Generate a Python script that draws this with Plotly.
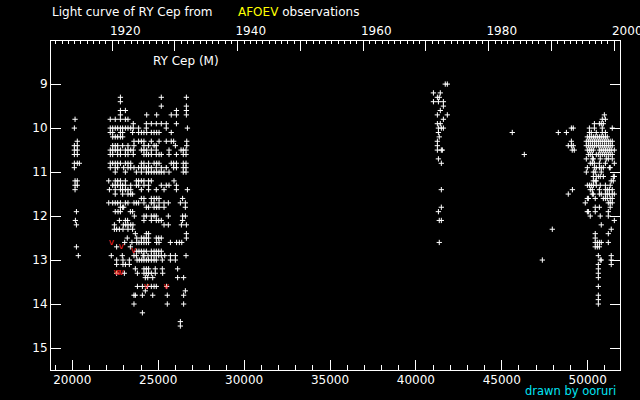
import plotly.graph_objects as go

# ---------------- data (JD - 2400000, visual magnitude) ----------------
# 1913 season
jd_a = [20160, 20120, 20290, 20120, 20290, 20120, 20290, 20120, 20290, 20120, 20290, 20410,
        20120, 20160, 20290, 20160, 20290, 20160, 20240, 20180, 20240, 20240, 20350]
mag_a = [9.8, 10.0, 10.3, 10.4, 10.4, 10.5, 10.5, 10.6, 10.6, 10.8, 10.8, 10.8,
         10.9, 11.2, 11.2, 11.3, 11.3, 11.4, 11.9, 12.1, 12.2, 12.7, 12.9]

# 1919-1931 seasons, one JD list per magnitude row
mag_rows_b = [9.3, 9.4, 9.5, 9.6, 9.7, 9.8, 9.9, 10.0, 10.1, 10.2, 10.3, 10.4, 10.5, 10.6,
              10.8, 10.9, 11.0, 11.2, 11.3, 11.4, 11.5, 11.6, 11.7, 11.8, 11.9, 12.0, 12.1,
              12.2, 12.3, 12.4, 12.5, 12.6, 12.7, 12.8, 12.9, 13.0, 13.1, 13.2, 13.3, 13.4,
              13.6, 13.7, 13.8, 14.0, 14.2, 14.4, 14.5]
jd_rows_b = [
    [22800, 25180, 26640],
    [22800],
    [25180, 26640],
    [22800, 23090, 26060, 26640],
    [22800, 24330, 24910, 25760, 26060, 26640],
    [22210, 22500, 22800, 23090, 23240],
    [23550, 24310, 24600, 24890, 25180, 25470, 26060],
    [22210, 22350, 22500, 22640, 22800, 22930, 23090, 23240, 23400, 23550, 23860, 24310, 25470, 26700],
    [22210, 22350, 22800, 22930, 23510, 23860, 24020, 24170, 24330, 24600, 24760, 24910, 25050, 25760],
    [22350, 22500, 22640, 22800, 22930],
    [23590, 23860, 24020, 24170, 24600, 25050, 25470, 25760, 25900, 26660],
    [22350, 22500, 22640, 22930, 23240, 23590, 24170, 24440, 24760, 24890, 26000, 26660],
    [22210, 22350, 22500, 22640, 22800, 23090, 23240, 23400, 23550, 24020, 24170, 24330, 24600, 24890, 25630, 26330, 26460, 26620],
    [22210, 22350, 22640, 22800, 23090, 23240, 23550, 24170, 24310, 24440, 24600, 24890, 25050, 25180, 25630, 26060, 26460, 26620],
    [22210, 22350, 22500, 22640, 22800, 23090, 23240, 23400, 24020, 24170, 24440, 24760, 24910, 25050, 25760, 25900, 26060, 26460, 26620],
    [22210, 22500, 22640, 22990, 23240, 23400, 23590, 23860, 24020, 24170, 24310, 24440, 24600, 24890, 25180, 25470, 25900, 26060, 26460, 26620],
    [22500, 23090, 23730, 24020, 24310, 24440, 24600, 24760, 24910, 25050, 25180, 25340, 25630, 26460, 26620],
    [22120, 22500, 22640, 22800, 23090, 23730, 23860, 24020, 24170, 24440, 24600, 25920],
    [22350, 22500, 22640, 22800, 22930, 23090, 23400, 23730, 23860, 24170, 24440, 25180, 25470, 25630, 26060],
    [22160, 22500, 22800, 22930, 23090, 23240, 23400, 24020, 24440, 24890, 25340, 26060, 26700],
    [22500, 22930, 23240, 23400, 23510],
    [24020, 24170, 24600, 24760, 24910, 25050, 26420],
    [22120, 22350, 22500, 22640, 22800, 23090, 23240, 23590, 23730, 23860, 24170, 24600, 24760, 25050, 25340, 25590, 26290, 26580],
    [22800, 22930, 22990, 24310, 24440, 24760, 24910, 25050, 25340, 26580],
    [22500, 22660, 22800, 23380, 23510],
    [23610, 24170, 24310, 24600, 24760, 24890, 25590, 26420, 26580],
    [22740, 23090, 23220, 24170, 24600, 24890, 25030, 25180, 26420],
    [22450, 22970, 23110, 23240, 23400, 23530, 25340, 25590, 26350, 26640],
    [22450, 22580, 22740, 22950, 23240, 23510],
    [23670, 24310, 24440, 26640],
    [23200, 23750, 24020, 24170, 24310, 24440, 24890, 25030, 25180, 26640],
    [23050, 23470, 23750, 23880, 24020, 24170, 24310, 24440, 24910, 25050, 25710, 26070, 26230, 26370],
    [22580, 23380],
    [23750, 23880, 24020, 24170, 24310, 24600, 24760, 24890, 25030, 25180],
    [22270, 22910, 23590, 23730, 24120, 24170, 24410, 24600, 24760, 24890, 25030, 25180, 25380, 25710, 26000, 26620],
    [22580, 22950, 23320, 23770, 23900, 24040, 24170, 24310, 24440, 24600, 24760, 24890, 25240, 25710, 26000],
    [22580, 22950, 23090, 23320],
    [23670, 24170, 24310, 24440, 24830, 25240, 26130],
    [22580, 23030, 23790, 24170, 24310, 24440, 24600, 24830, 25260],
    [24250, 24390, 24680, 26130, 26480],
    [23790, 24080, 24370, 24600, 24760, 24890, 25490],
    [24250, 26580],
    [23590, 23670, 24080, 24680, 25530, 26480],
    [23590, 25530, 26480],
    [24080],
    [26290],
    [26290],
]

# 1971-1973 seasons
mag_rows_c = [9.0, 9.2, 9.3, 9.4, 9.5, 9.6, 9.7, 9.8, 9.9, 10.0, 10.1, 10.2, 10.3, 10.4,
              10.5, 10.7, 10.8, 11.4, 11.8, 11.9, 12.1, 12.6]
jd_rows_c = [
    [41710, 41830], [41020, 41420], [41250, 41360], [41020, 41310, 41600], [41600],
    [41420], [41250, 41830], [41600], [41250, 41420], [41310, 41480, 41600], [41310],
    [41360], [41250], [41250], [41250, 41480, 41540], [41310], [41480], [41480],
    [41480], [41310], [41360, 41480], [41360],
]

# scattered 1983-1993 observations
jd_d = [45610, 46310, 47360, 47940, 48290, 48760, 49050, 49160, 49050, 48870, 49050, 49160,
        49100, 49220, 49110, 48870]
mag_d = [10.1, 10.6, 13.0, 12.3, 10.1, 10.1, 10.0, 10.0, 10.3, 10.4, 10.4, 10.4,
         10.5, 10.5, 11.4, 11.5]

# 1995-2000 seasons
mag_rows_e = [9.7, 9.8, 9.9, 10.0, 10.1, 10.2, 10.3, 10.4, 10.5, 10.6, 10.7, 10.8, 10.9,
              11.0, 11.1, 11.2, 11.3, 11.4, 11.5, 11.6, 11.7, 11.8, 11.9, 12.0, 12.1, 12.2,
              12.3, 12.4, 12.5, 12.6, 12.7, 12.9, 13.0, 13.1, 13.2, 13.3, 13.4, 13.6, 13.8,
              13.9, 14.0]
jd_rows_e = [
    [50970],
    [50850, 51030],
    [50390, 50680, 50790, 50910],
    [50100, 50390, 50850, 51430],
    [50100, 50210, 50500, 50850, 51030],
    [49980, 50100, 50210, 50330, 50440, 50560, 50680, 50790, 50910, 51030, 51140],
    [49920, 50040, 50150, 50270, 50390, 50500, 50620, 50730, 50850, 50970, 51080, 51200, 51310, 51430],
    [49920, 50040, 50150, 50270, 50390, 50500, 50620, 50730, 50850, 50970, 51080, 51200, 51310, 51430],
    [49980, 50100, 50210, 50330, 50680, 50790, 50910, 51030, 51140, 51260, 51370, 51550],
    [50040, 50150, 50270, 50500, 50620, 50730, 50850, 50970, 51080, 51200, 51310, 51430],
    [49920, 50270, 50330, 50730, 51080, 51200, 51430],
    [50150, 50270, 50390, 50680, 51030, 51550],
    [49980, 50390, 50500, 50680, 50790, 50910, 51260, 51310],
    [49920, 50330, 50440, 50790],
    [50330, 50500, 50620, 50730, 50910, 51490, 51550],
    [50330, 50440, 50500, 51370, 51490],
    [49980, 50100, 50210, 50330, 50500, 50730, 51030, 51310],
    [50150, 50270, 50680, 51030, 51140, 51260, 51430],
    [50270, 50330, 50680, 50790, 51030, 51140, 51260, 51430, 51550],
    [49980, 50040, 50440, 50910, 51030, 51140, 51310, 51430],
    [49860, 51200, 51310, 51430],
    [50440, 50680, 51310],
    [49980, 50040, 50440, 51200],
    [50150, 50730, 51200],
    [51550],
    [50790],
    [51370],
    [50440, 51200],
    [50440],
    [50440, 50560, 50680, 50790, 51200],
    [50440, 50560, 50680],
    [50620, 51370],
    [50730, 50790, 51370],
    [50620, 51370],
    [50620], [50620], [50620], [50620], [50620], [50620], [50620],
]

# fainter-than limits (red)
jd_lim = [22270, 22850, 23550, 22560, 22700, 22850, 24310, 25470]
mag_lim = [12.6, 12.7, 12.8, 13.3, 13.3, 13.3, 13.6, 13.6]

jd_ticks = [20000, 25000, 30000, 35000, 40000, 45000, 50000]
jd_tick_text = ["20000", "25000", "30000", "35000", "40000", "45000", "50000"]
year_ticks = [1920, 1930, 1940, 1950, 1960, 1970, 1980, 1990, 2000]
year_tick_text = ["1920", "", "1940", "", "1960", "", "1980", "", "2000"]
mag_ticks = [9, 10, 11, 12, 13, 14, 15]


def flatten(mags, rows):
    xs, ys = [], []
    for m, r in zip(mags, rows):
        for j in r:
            xs.append(j)
            ys.append(m)
    return xs, ys


xb, yb = flatten(mag_rows_b, jd_rows_b)
xc, yc = flatten(mag_rows_c, jd_rows_c)
xe, ye = flatten(mag_rows_e, jd_rows_e)
all_x = jd_a + xb + xc + jd_d + xe
all_y = mag_a + yb + yc + mag_d + ye

# ---------------- figure ----------------
W, H = 640, 400
ML, MR, MT, MB = 51, 20, 41, 30
PW, PH = W - ML - MR, H - MT - MB
jd_range = [18760, 51880]


def jd_to_year(jd):
    return 2000 + (jd - 51544.5) / 365.25


def px(x):
    return (x - ML) / PW


def py(y):
    return (H - MB - y) / PH


fig = go.Figure()
fig.add_trace(go.Scatter(
    x=all_x, y=all_y, mode="markers",
    marker=dict(symbol="cross-thin-open", size=3.8, color="white",
                line=dict(color="white", width=1)),
    hoverinfo="skip", showlegend=False))
fig.add_trace(go.Scatter(
    x=jd_lim, y=mag_lim, mode="text", text=["v"] * len(jd_lim),
    textfont=dict(color="#ff2020", size=9, family="DejaVu Sans"),
    hoverinfo="skip", showlegend=False))
fig.add_trace(go.Scatter(x=[], y=[], xaxis="x2", showlegend=False))

axis_common = dict(showgrid=False, zeroline=False, showline=True, linecolor="white",
                   linewidth=1, ticks="inside", ticklen=10, tickwidth=1,
                   tickcolor="white", automargin=False,
                   tickfont=dict(color="white", size=12, family="DejaVu Sans"))

fig.update_layout(
    width=W, height=H,
    margin=dict(l=ML, r=MR, t=MT, b=MB, autoexpand=False),
    paper_bgcolor="black", plot_bgcolor="black",
    font=dict(family="DejaVu Sans", color="white", size=12),
    xaxis=dict(range=jd_range, tickmode="array", tickvals=jd_ticks, ticktext=jd_tick_text,
               ticklabelstandoff=-1,
               minor=dict(tick0=0, dtick=1000, ticks="inside", ticklen=5, tickcolor="white",
                          tickwidth=1),
               **axis_common),
    xaxis2=dict(range=[jd_to_year(jd_range[0]), jd_to_year(jd_range[1])], overlaying="x",
                side="top", tickmode="array", tickvals=year_ticks, ticktext=year_tick_text,
                ticklabelshift=13, ticklabeloverflow="allow",
                minor=dict(tick0=1900, dtick=1, ticks="inside", ticklen=3, tickcolor="white",
                           tickwidth=1),
                **axis_common),
    yaxis=dict(range=[15.5, 8.02], tickmode="array", tickvals=mag_ticks, mirror="ticks",
               **axis_common),
    annotations=[
        dict(x=px(50), y=py(12), xref="paper", yref="paper", xanchor="left", yanchor="middle",
             text="Light curve of RY Cep from", showarrow=False,
             font=dict(color="white", size=12)),
        dict(x=px(236), y=py(12), xref="paper", yref="paper", xanchor="left", yanchor="middle",
             text="<span style='color:#ffff00'>AFOEV</span> observations", showarrow=False,
             font=dict(color="white", size=12)),
        dict(x=px(151), y=py(61), xref="paper", yref="paper", xanchor="left", yanchor="middle",
             text="RY Cep (M)", showarrow=False, font=dict(color="white", size=12)),
        dict(x=px(618), y=py(391), xref="paper", yref="paper", xanchor="right",
             yanchor="middle", text="drawn by ooruri", showarrow=False,
             font=dict(color="#00e4f4", size=11.5)),
    ],
)

fig.write_html("out.html", config={"displayModeBar": False},
               post_script="document.body.style.margin='0';document.body.style.background='black';")
